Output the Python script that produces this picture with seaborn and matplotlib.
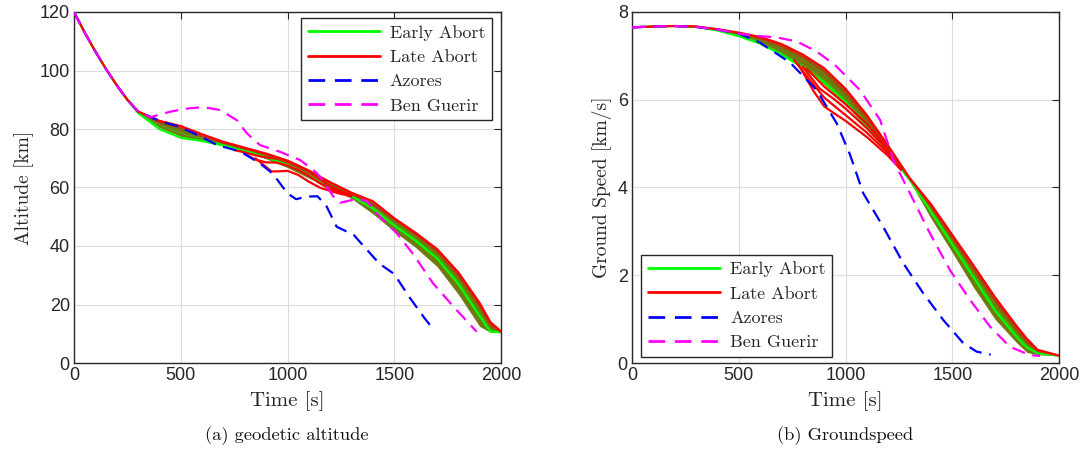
import matplotlib
matplotlib.use("Agg")
import matplotlib.pyplot as plt
import seaborn as sns
from matplotlib.lines import Line2D

# ---------------- data: geodetic altitude ----------------
t_band_alt = [0, 50, 100, 150, 200, 250, 300, 400, 500, 600, 700, 800, 900, 1000,
              1100, 1200, 1300, 1400, 1500, 1600, 1700, 1800, 1900, 1950, 2000]
alt_band_hi = [120, 113, 106.5, 100.5, 95, 90, 86, 82.8, 81, 78.2, 75.6, 73.6, 71.6, 69.2,
               65.8, 61.8, 58.2, 55.3, 49.5, 44.5, 39, 31, 20.5, 14, 10.8]
alt_band_lo = [120, 113, 106.5, 100.5, 95, 90, 85.5, 80.5, 77.5, 76, 74.2, 72.2, 69.8, 66.8,
               63.2, 60, 56.2, 51, 45, 39.5, 33, 23.5, 12.5, 10.5, 10.5]
alt_early1 = [120, 113, 106.5, 100.5, 95, 90, 85.5, 80, 77, 75.9, 74.4, 72.6, 70.4, 67.7,
              64.2, 60.8, 57, 52.8, 47, 41.8, 35.8, 27, 16, 10.7, 10.5]
alt_early2 = [120, 113, 106.5, 100.5, 95, 90, 85.8, 81.3, 78.6, 76.8, 74.9, 73, 70.8, 68.2,
              64.7, 61.2, 57.4, 53.4, 47.6, 42.4, 36.4, 28, 17, 11.5, 10.5]
alt_late1 = [120, 113, 106.5, 100.5, 95, 90, 86, 82.8, 81, 78.2, 75.6, 73.6, 71.6, 69.2,
             65.8, 61.8, 58.2, 55.3, 49.5, 44.5, 39, 31, 20.5, 14, 10.8]
alt_late2 = [120, 113, 106.5, 100.5, 95, 90, 86, 82.3, 80.3, 77.5, 75.2, 73.2, 71.2, 68.6,
             65.2, 61.4, 57.8, 54.2, 49, 44, 38.3, 30, 19.5, 13, 10.6]

t_alt_b1 = [750, 800, 850, 900, 950, 1000, 1050, 1100, 1150, 1200, 1250, 1300]
alt_b1 = [72.8, 72, 71, 70.3, 69.8, 68.8, 67.3, 65.2, 62.8, 60.5, 58.8, 57.5]
t_alt_b2 = [800, 850, 900, 950, 1000, 1050, 1100, 1150, 1200, 1250, 1300]
alt_b2 = [71.5, 69.5, 68.6, 68.5, 67.5, 66, 64, 61.5, 59.5, 58.3, 57.3]
t_alt_b3 = [850, 900, 925, 950, 1000, 1050, 1100, 1150, 1200, 1250, 1300]
alt_b3 = [70, 67, 65.5, 65.5, 65.7, 64.3, 62, 60, 58.8, 57.8, 57]

t_alt_az = [0, 50, 100, 150, 200, 250, 300, 400, 500, 600, 670, 780, 870, 930, 1000,
            1040, 1090, 1140, 1180, 1230, 1310, 1360, 1430, 1500, 1570, 1640, 1680]
alt_az = [120, 113, 106.5, 100.5, 95, 90, 86, 82.8, 80.6, 77.2, 74.5, 72.3, 68.3, 64.8, 58,
          56, 56.9, 57, 54, 46.6, 43.8, 39.7, 34, 30.4, 22.6, 15.5, 11.8]

t_alt_bg = [0, 50, 100, 150, 200, 250, 300, 356, 450, 530, 605, 684, 763, 809, 871, 965,
            1059, 1121, 1152, 1215, 1246, 1308, 1370, 1433, 1511, 1588, 1682, 1792, 1886]
alt_bg = [120, 113, 106.5, 100.5, 95, 90, 86, 84, 85.9, 87, 87.5, 86.5, 83, 78.6, 74.5, 72.2,
          69.4, 66, 63.7, 56.9, 54.8, 55.8, 55.5, 50, 44.4, 37.3, 27.2, 18.1, 10.7]

# ---------------- data: ground speed ----------------
t_band_spd = [0, 100, 200, 300, 400, 500, 600, 700, 800, 900, 1000, 1100, 1200, 1300,
              1400, 1500, 1600, 1700, 1800, 1850, 1900, 2000]
spd_band_hi = [7.65, 7.67, 7.68, 7.67, 7.61, 7.53, 7.43, 7.27, 7.03, 6.72, 6.25, 5.65, 4.95,
               4.22, 3.62, 2.92, 2.22, 1.5, 0.85, 0.55, 0.3, 0.17]
spd_band_lo = [7.65, 7.67, 7.68, 7.66, 7.58, 7.45, 7.28, 7.02, 6.72, 6.35, 5.9, 5.35, 4.75,
               4.15, 3.3, 2.52, 1.72, 1.0, 0.47, 0.24, 0.19, 0.16]
spd_early1 = [7.65, 7.67, 7.68, 7.66, 7.58, 7.45, 7.28, 7.03, 6.74, 6.4, 5.95, 5.4, 4.8,
              4.18, 3.45, 2.7, 1.95, 1.2, 0.6, 0.35, 0.22, 0.17]
spd_early2 = [7.65, 7.67, 7.68, 7.66, 7.59, 7.47, 7.31, 7.07, 6.79, 6.46, 6.02, 5.46, 4.85,
              4.19, 3.5, 2.78, 2.02, 1.27, 0.66, 0.4, 0.24, 0.17]
spd_late1 = [7.65, 7.67, 7.68, 7.67, 7.61, 7.53, 7.43, 7.27, 7.03, 6.72, 6.25, 5.65, 4.95,
             4.22, 3.62, 2.92, 2.22, 1.5, 0.85, 0.55, 0.3, 0.17]
spd_late2 = [7.65, 7.67, 7.68, 7.67, 7.6, 7.51, 7.4, 7.22, 6.97, 6.65, 6.17, 5.58, 4.9,
             4.2, 3.56, 2.84, 2.13, 1.42, 0.78, 0.48, 0.27, 0.17]

t_spd_b1 = [780, 850, 900, 950, 1000, 1100, 1200, 1260]
spd_b1 = [6.8, 6.2, 5.85, 5.68, 5.52, 5.15, 4.72, 4.4]
t_spd_b2 = [760, 850, 900, 950, 1000, 1100, 1200, 1260]
spd_b2 = [6.9, 6.35, 6.05, 5.85, 5.65, 5.25, 4.78, 4.42]
t_spd_b3 = [800, 880, 950, 1000, 1100, 1200, 1260]
spd_b3 = [6.75, 6.25, 6.0, 5.8, 5.35, 4.85, 4.45]
t_spd_b4 = [820, 900, 950, 1000, 1100, 1200, 1260]
spd_b4 = [6.7, 6.3, 6.1, 5.9, 5.45, 4.9, 4.47]

t_spd_az = [0, 100, 200, 300, 400, 506, 600, 646, 740, 865, 959, 1021, 1083, 1177, 1271,
            1364, 1458, 1552, 1614, 1680]
spd_az = [7.65, 7.67, 7.68, 7.66, 7.6, 7.5, 7.3, 7.15, 6.85, 6.22, 5.46, 4.75, 3.87, 3.1,
          2.27, 1.59, 0.98, 0.45, 0.26, 0.19]

t_spd_bg = [0, 100, 200, 300, 400, 506, 600, 678, 771, 865, 951, 1068, 1162, 1224, 1255,
            1318, 1396, 1489, 1583, 1677, 1770, 1864, 1911]
spd_bg = [7.65, 7.67, 7.68, 7.66, 7.6, 7.5, 7.45, 7.42, 7.33, 7.1, 6.79, 6.22, 5.54, 4.63,
          4.32, 3.71, 2.95, 2.12, 1.44, 0.83, 0.37, 0.18, 0.16]

legend_labels = ["Early Abort", "Late Abort", "Azores", "Ben Guerir"]
captions = ["(a) geodetic altitude", "(b) Groundspeed"]

# ---------------- style ----------------
sns.set_theme(style="white")
plt.rcParams["font.family"] = ["Liberation Sans", "DejaVu Sans"]
plt.rcParams["axes.unicode_minus"] = False

GREEN = "#00ff00"
RED = "#ff0000"
BLUE = "#0000ff"
MAGENTA = "#ff00ff"
OLIVE = "#72770f"
DASH = (0, (6, 3.5))
SERIF = "cmr10"
EDGE = "#262626"

fig = plt.figure(figsize=(10.82, 4.55), dpi=100)
ax1 = fig.add_axes([74 / 1082, 92 / 455, 427 / 1082, 351 / 455])
ax2 = fig.add_axes([632 / 1082, 92 / 455, 427 / 1082, 351 / 455])


def line(ax, x, y, color, lw=1.6, ls="-", z=3):
    sns.lineplot(x=x, y=y, ax=ax, color=color, linewidth=lw, linestyle=ls,
                 sort=False, estimator=None, zorder=z)


def draw(ax, tb, lo, hi, e1, e2, l1, l2, branches, taz, az, tbg, bg):
    ax.fill_between(tb, lo, hi, color=OLIVE, lw=0, zorder=2)
    line(ax, tb, e2, "#5a9a10", lw=1.2)
    line(ax, tb, e1, GREEN, lw=1.6)
    for tx, yx in branches:
        line(ax, tx, yx, RED, lw=1.6)
    line(ax, tb, l2, "#b04010", lw=1.2)
    line(ax, tb, l1, RED, lw=1.6)
    line(ax, taz, az, BLUE, lw=1.6, ls=DASH, z=4)
    line(ax, tbg, bg, MAGENTA, lw=1.6, ls=DASH, z=5)


draw(ax1, t_band_alt, alt_band_lo, alt_band_hi, alt_early1, alt_early2, alt_late1, alt_late2,
     [(t_alt_b1, alt_b1), (t_alt_b2, alt_b2), (t_alt_b3, alt_b3)],
     t_alt_az, alt_az, t_alt_bg, alt_bg)
draw(ax2, t_band_spd, spd_band_lo, spd_band_hi, spd_early1, spd_early2, spd_late1, spd_late2,
     [(t_spd_b1, spd_b1), (t_spd_b2, spd_b2), (t_spd_b3, spd_b3), (t_spd_b4, spd_b4)],
     t_spd_az, spd_az, t_spd_bg, spd_bg)

handles = [Line2D([], [], color=GREEN, lw=2),
           Line2D([], [], color=RED, lw=2),
           Line2D([], [], color=BLUE, lw=2, ls=DASH),
           Line2D([], [], color=MAGENTA, lw=2, ls=DASH)]

for ax, ylim, yticks, ylabel, cap, cx in [
        (ax1, (0, 120), [0, 20, 40, 60, 80, 100, 120], "Altitude [km]", captions[0], 287),
        (ax2, (0, 8), [0, 2, 4, 6, 8], "Ground Speed [km/s]", captions[1], 845)]:
    ax.set_xlim(0, 2000)
    ax.set_ylim(*ylim)
    ax.set_xticks([0, 500, 1000, 1500, 2000])
    ax.set_yticks(yticks)
    ax.grid(True, color="#dcdcdc", lw=0.8)
    ax.set_axisbelow(True)
    ax.tick_params(direction="in", length=5, width=0.8, top=True, right=True,
                   labelsize=13, colors=EDGE, pad=3)
    for s in ax.spines.values():
        s.set_color(EDGE)
        s.set_linewidth(1.0)
        s.set_visible(True)
    ax.set_xlabel("Time [s]", fontfamily=SERIF, fontsize=15, color=EDGE, labelpad=5)
    ax.set_ylabel(ylabel, fontfamily=SERIF, fontsize=14, color=EDGE, labelpad=4)
    fig.text(cx / 1082, 1 - 436 / 455, cap, ha="center", va="center",
             fontfamily=SERIF, fontsize=13.3, color="#111111")

leg_kw = dict(prop={"family": SERIF, "size": 13}, fancybox=False, framealpha=1,
              edgecolor=EDGE, handlelength=4.0, borderaxespad=0, labelspacing=0.48,
              borderpad=0.38, handletextpad=0.55)
lg1 = ax1.legend(handles, legend_labels, loc="upper right",
                 bbox_to_anchor=(0.979, 0.983), **leg_kw)
lg2 = ax2.legend(handles, legend_labels, loc="lower left",
                 bbox_to_anchor=(0.021, 0.017), **leg_kw)
for lg in (lg1, lg2):
    lg.get_frame().set_linewidth(1.0)
    lg.set_zorder(10)

fig.savefig("out.png", dpi=100)
